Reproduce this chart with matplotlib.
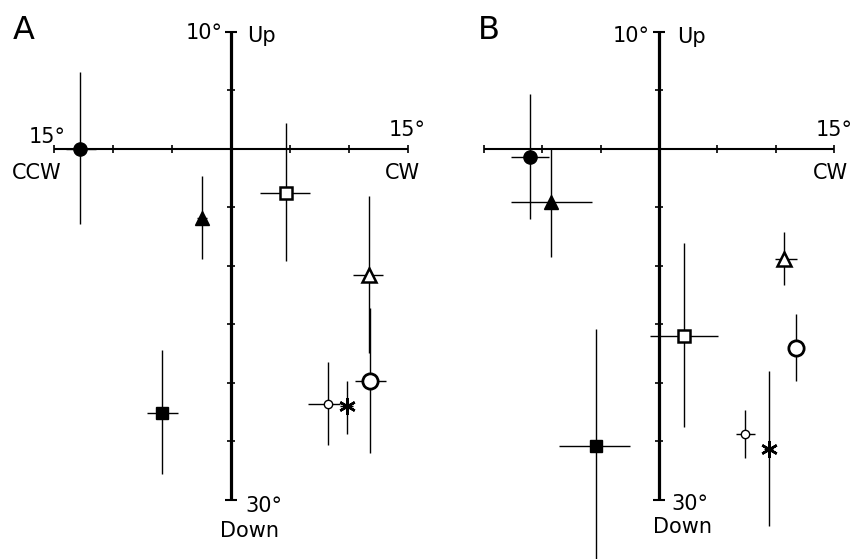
import matplotlib
matplotlib.use("Agg")
import matplotlib.pyplot as plt
import numpy as np

plt.rcParams['font.family'] = ['DejaVu Sans']

# ---------------- data ----------------
symbols = ["filled circle", "filled triangle", "open square", "open triangle",
           "open circle", "small open circle", "star", "filled square"]

# Panel A
a_x     = [-12.8, -2.45, 4.7, 11.7, 11.8, 8.25, 9.85, -5.85]
a_y     = [15.0, 17.95, 16.9, 20.4, 24.9, 25.9, 26.0, 26.3]
a_x_lo  = [-14.0, -2.9, 2.5, 10.4, 10.5, 6.5, 9.3, -7.15]
a_x_hi  = [-11.5, -2.0, 6.7, 12.9, 13.2, 9.3, 10.4, -4.5]
a_y_lo  = [11.7, 16.15, 13.9, 17.0, 21.8, 24.1, 24.9, 23.6]
a_y_hi  = [18.2, 19.7, 19.8, 23.7, 28.0, 27.65, 27.2, 28.9]

# Panel B
b_x     = [-11.05, -9.25, 2.15, 10.7, 11.7, 7.35, 9.4, -5.4]
b_y     = [15.35, 17.25, 23.0, 19.7, 23.5, 27.2, 27.8, 27.7]
b_x_lo  = [-12.7, -12.7, -0.75, 9.9, 11.3, 6.6, 9.0, -8.6]
b_x_hi  = [-9.4, -5.75, 5.05, 11.8, 12.1, 8.2, 9.8, -2.5]
b_y_lo  = [12.65, 15.0, 19.0, 18.55, 22.05, 26.15, 24.5, 22.7]
b_y_hi  = [18.0, 19.6, 26.9, 20.8, 24.9, 28.2, 31.1, 34.0]

x_ticks = [-15, -10, -5, 0, 5, 10, 15]
y_ticks = [10, 12.5, 15, 17.5, 20, 22.5, 25, 27.5, 30]
x_axis_level = 15
y_top, y_bottom = 10, 30

# ---------------- styles ----------------
style = {
    "filled circle":     dict(marker='o', ms=9.5, mfc='black', mec='black', mew=1.0),
    "filled triangle":   dict(marker='^', ms=10.5, mfc='black', mec='black', mew=1.0),
    "open square":       dict(marker='s', ms=8.5, mfc='white', mec='black', mew=1.8),
    "open triangle":     dict(marker='^', ms=9.5, mfc='white', mec='black', mew=1.8),
    "open circle":       dict(marker='o', ms=11, mfc='white', mec='black', mew=2.0),
    "small open circle": dict(marker='o', ms=6, mfc='white', mec='black', mew=1.0),
    "star":              dict(marker=(6, 2, 0), ms=12, mfc='black', mec='black', mew=1.8),
    "filled square":     dict(marker='s', ms=8.5, mfc='black', mec='black', mew=1.0),
}

W, H = 851, 559
fig = plt.figure(figsize=(W / 100, H / 100), dpi=100)

def make_axes(px_left, px_right, px_x0, px_per_x, px_y10, px_per_y):
    ax = fig.add_axes([px_left / W, 0, (px_right - px_left) / W, 1])
    ax.set_xlim((px_left - px_x0) / px_per_x, (px_right - px_x0) / px_per_x)
    ax.set_ylim(10 + (H - px_y10) / px_per_y, 10 - px_y10 / px_per_y)
    ax.axis('off')
    return ax

def draw_frame(ax):
    ax.plot([x_ticks[0], x_ticks[-1]], [x_axis_level] * 2, color='black', lw=1.5,
            solid_capstyle='butt')
    ax.plot([0, 0], [y_top, y_bottom], color='black', lw=2.3, solid_capstyle='butt')
    ax.plot(x_ticks, [x_axis_level] * len(x_ticks), ls='none', marker='|', ms=6,
            mew=1.2, color='black')
    ax.plot([0] * len(y_ticks), y_ticks, ls='none', marker='_', ms=6, mew=1.2,
            color='black')
    ax.plot([0, 0], [y_top, y_bottom], ls='none', marker='_', ms=8, mew=1.5,
            color='black')

def draw_points(ax, xs, ys, xlo, xhi, ylo, yhi):
    xs = np.array(xs); ys = np.array(ys)
    xerr = np.vstack([xs - np.array(xlo), np.array(xhi) - xs])
    yerr = np.vstack([ys - np.array(ylo), np.array(yhi) - ys])
    ax.errorbar(xs, ys, xerr=xerr, yerr=yerr, fmt='none', ecolor='black',
                elinewidth=1.0, capsize=0, zorder=2)
    for s, x, y in zip(symbols, xs, ys):
        ax.plot([x], [y], ls='none', zorder=3, **style[s])

def ann(ax, text, xy, dx, dy, ha, size=15):
    ax.annotate(text, xy=xy, xytext=(dx, dy), textcoords='offset pixels',
                ha=ha, va='baseline', fontsize=size, annotation_clip=False)

# Panel A
axA = make_axes(0, 430, 231, 11.77, 32, 23.4)
draw_frame(axA)
draw_points(axA, a_x, a_y, a_x_lo, a_x_hi, a_y_lo, a_y_hi)
ann(axA, "10°", (0, y_top), -8, -7, 'right')
ann(axA, "Up", (0, y_top), 16, -10, 'left')
ann(axA, "15°", (x_ticks[0], x_axis_level), -7, 6, 'center')
ann(axA, "CCW", (x_ticks[0], x_axis_level), -18, -30, 'center')
ann(axA, "15°", (x_ticks[-1], x_axis_level), 0, 13, 'center')
ann(axA, "CW", (x_ticks[-1], x_axis_level), -5, -30, 'center')
ann(axA, "30°", (0, y_bottom), 14, -12, 'left')
ann(axA, "Down", (0, y_bottom), -11, -37, 'left')

# Panel B
axB = make_axes(430, 851, 659, 11.67, 32, 23.4)
draw_frame(axB)
draw_points(axB, b_x, b_y, b_x_lo, b_x_hi, b_y_lo, b_y_hi)
ann(axB, "10°", (0, y_top), -9, -10, 'right')
ann(axB, "Up", (0, y_top), 18, -11, 'left')
ann(axB, "15°", (x_ticks[-1], x_axis_level), 0, 13, 'center')
ann(axB, "CW", (x_ticks[-1], x_axis_level), -4, -30, 'center')
ann(axB, "30°", (0, y_bottom), 12, -10, 'left')
ann(axB, "Down", (0, y_bottom), -6, -33, 'left')

fig.text(13 / W, 1 - 39 / H, "A", fontsize=23, va='baseline', ha='left')
fig.text(478 / W, 1 - 39 / H, "B", fontsize=23, va='baseline', ha='left')

fig.savefig("out.png", dpi=100, facecolor='white')
